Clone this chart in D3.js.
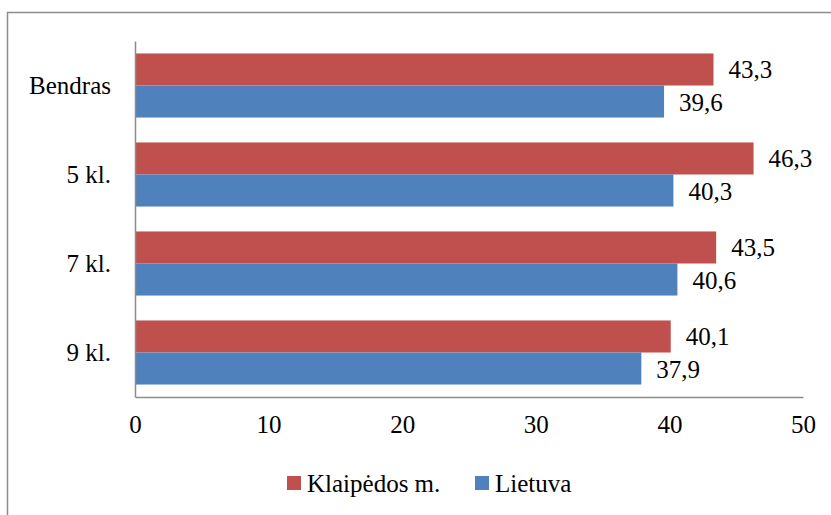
<!DOCTYPE html>
<html>
<head>
<meta charset="utf-8">
<script src="https://cdn.jsdelivr.net/npm/d3@7"></script>
</head>
<body style="margin:0">
<svg width="831" height="515" font-family="Liberation Serif"></svg>
<script>
// data
let categories = ["Bendras", "5 kl.", "7 kl.", "9 kl."];
let seriesNames = ["Klaipėdos m.", "Lietuva"];
let klaipeda = [43.3, 46.3, 43.5, 40.1];
let lietuva = [39.6, 40.3, 40.6, 37.9];
let xTicks = [0, 10, 20, 30, 40, 50];
let colors = ["#C0504D", "#4F81BD"];

let fontFam = "Liberation Serif";

let svg = d3.select("svg");

// outer chart border
svg.append("rect")
    .attr("x", 7.5).attr("y", 12.5)
    .attr("width", 840).attr("height", 520)
    .attr("fill", "none").attr("stroke", "#8c8c8c").attr("stroke-width", 1.5);

let plotLeft = 135, plotRight = 803, plotTop = 41, plotBottom = 397;

let x = d3.scaleLinear().domain([0, 50]).range([plotLeft, plotRight]);
let y = d3.scaleBand().domain(categories).range([plotTop, plotBottom]).paddingInner(0.28).paddingOuter(0.14);
let ySub = d3.scaleBand().domain(seriesNames).range([0, y.bandwidth()]);

let fmt = v => d3.format(".1f")(v).replace(".", ",");

let rows = categories.map((c, i) => ({ cat: c, vals: [klaipeda[i], lietuva[i]] }));

let groups = svg.selectAll("g.cat").data(rows).enter().append("g")
    .attr("class", "cat")
    .attr("transform", d => "translate(0," + y(d.cat) + ")");

groups.selectAll("rect").data(d => d.vals.map((v, j) => ({ v: v, s: seriesNames[j], j: j })))
    .enter().append("rect")
    .attr("x", x(0))
    .attr("y", d => ySub(d.s))
    .attr("width", d => x(d.v) - x(0))
    .attr("height", ySub.bandwidth())
    .attr("fill", d => colors[d.j]);

groups.selectAll("text.val").data(d => d.vals.map((v, j) => ({ v: v, s: seriesNames[j] })))
    .enter().append("text")
    .attr("class", "val")
    .attr("x", d => x(d.v) + 15)
    .attr("y", d => ySub(d.s) + ySub.bandwidth() / 2 + 9)
    .attr("font-family", fontFam).attr("font-size", 25).attr("fill", "#000")
    .text(d => fmt(d.v));

// axes without tick marks
let xAxis = d3.axisBottom(x).tickValues(xTicks).tickSize(0).tickPadding(18);
let gx = svg.append("g").attr("transform", "translate(0," + plotBottom + ")").call(xAxis)
    .attr("font-family", fontFam).attr("font-size", 25);
gx.select(".domain").attr("stroke", "#8c8c8c").attr("stroke-width", 1.5);
gx.selectAll("text").attr("font-family", fontFam).attr("fill", "#000");

let yAxis = d3.axisLeft(y).tickSize(0).tickPadding(24);
let gy = svg.append("g").attr("transform", "translate(" + plotLeft + ",0)").call(yAxis)
    .attr("font-family", fontFam).attr("font-size", 25);
gy.select(".domain").attr("stroke", "#8c8c8c").attr("stroke-width", 1.5);
gy.selectAll("text").attr("font-family", fontFam).attr("fill", "#000");

// legend
let legendX = [287, 475];
let legend = svg.selectAll("g.legend").data(seriesNames).enter().append("g")
    .attr("class", "legend")
    .attr("transform", (d, i) => "translate(" + legendX[i] + ",476)");
legend.append("rect").attr("width", 14).attr("height", 14).attr("fill", (d, i) => colors[i]);
legend.append("text").attr("x", 20).attr("y", 16)
    .attr("font-family", fontFam).attr("font-size", 25).attr("fill", "#000")
    .text(d => d);
</script>
</body>
</html>
